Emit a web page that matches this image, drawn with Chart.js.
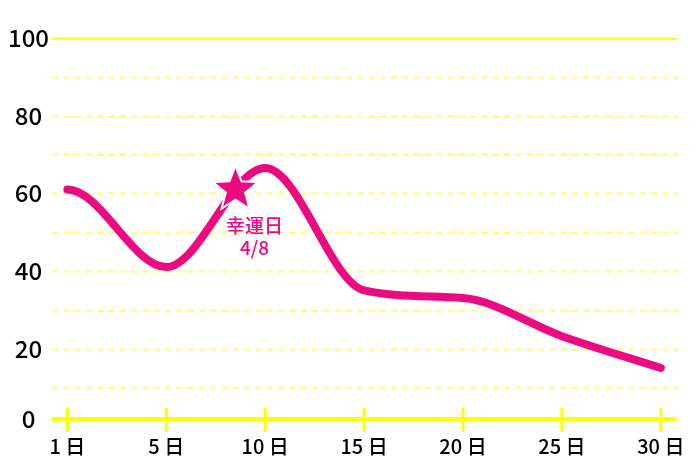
<!DOCTYPE html>
<html>
<head>
<meta charset="utf-8">
<script src="https://cdn.jsdelivr.net/npm/chart.js@4/dist/chart.umd.min.js"></script>
<style>
  html, body { margin: 0; padding: 0; background: #fff; }
  #wrap { width: 700px; height: 467px; }
</style>
</head>
<body>
<div id="wrap"><canvas id="fortuneChart" width="700" height="467"></canvas></div>
<script>
// data
const dayLabels = ['1 日', '5 日', '10 日', '15 日', '20 日', '25 日', '30 日'];
const dayIndex = [0, 1, 2, 3, 4, 5, 6];
const fortuneValues = [61, 41, 66.5, 35, 33, 23.2, 15];
const yLabelValues = [20, 40, 60, 80, 100];
const yGridValues = [10, 20, 30, 40, 50, 60, 70, 80, 90, 100];
const luckyText = ['幸運日', '4/8'];
const luckyPoint = { x: 1.7, y: 61 };

const yBottom = 1.86; // axis line sits a bit above true zero in the original
const pink = '#ec0a80';
const yellow = '#ffff00';
const jpFont = '"Noto Sans CJK JP", sans-serif';

const gridPlugin = {
    id: 'yellowGrid',
    beforeDatasetsDraw(chart) {
        const { ctx, chartArea, scales } = chart;
        const x = scales.x, y = scales.y;

        // original curve leaves the first point flat
        const meta = chart.getDatasetMeta(0);
        meta.dataset.updateControlPoints(chartArea, 'x');
        const p0 = meta.data[0];
        p0.cp2y = p0.y;

        ctx.save();
        yGridValues.forEach(function(v) {
            const py = Math.round(y.getPixelForValue(v)) + 0.5;
            ctx.beginPath();
            if (v === 100) {
                ctx.setLineDash([]);
                ctx.strokeStyle = yellow;
                ctx.moveTo(chartArea.left, py);
                ctx.lineTo(chartArea.right - 1, py);
            } else {
                ctx.setLineDash([6, 5.3]);
                ctx.strokeStyle = 'rgba(255,255,80,0.85)';
                ctx.moveTo(chartArea.left, py);
                ctx.lineTo(chartArea.right + 1, py);
            }
            ctx.lineWidth = 2;
            ctx.stroke();
        });
        ctx.setLineDash([]);
        // x axis with ticks crossing it
        const by = chartArea.bottom;
        ctx.strokeStyle = yellow;
        ctx.lineWidth = 4;
        ctx.beginPath();
        ctx.moveTo(chartArea.left, by);
        ctx.lineTo(chartArea.right - 1, by);
        ctx.stroke();
        ctx.lineWidth = 3;
        dayIndex.forEach(function(d) {
            const px = x.getPixelForValue(d);
            ctx.beginPath();
            ctx.moveTo(px, by - 11);
            ctx.lineTo(px, by + 13);
            ctx.stroke();
        });
        ctx.restore();
    }
};

const starPlugin = {
    id: 'luckyStar',
    afterDatasetsDraw(chart) {
        const { ctx, scales } = chart;
        const cx = scales.x.getPixelForValue(luckyPoint.x);
        const cy = scales.y.getPixelForValue(luckyPoint.y);
        const R = 21, r = 9;
        ctx.save();
        ctx.beginPath();
        for (let i = 0; i < 10; i++) {
            const rad = i % 2 === 0 ? R : r;
            const a = -Math.PI / 2 + i * Math.PI / 5;
            const px = cx + rad * Math.cos(a);
            const py = cy + rad * Math.sin(a);
            if (i === 0) ctx.moveTo(px, py); else ctx.lineTo(px, py);
        }
        ctx.closePath();
        ctx.strokeStyle = '#fff';
        ctx.lineWidth = 4;
        ctx.stroke();
        ctx.fillStyle = pink;
        ctx.fill();

        ctx.fillStyle = pink;
        ctx.font = '500 19px ' + jpFont;
        ctx.textAlign = 'center';
        ctx.textBaseline = 'middle';
        ctx.fillText(luckyText[0], cx + 19, cy + 36);
        ctx.fillText(luckyText[1], cx + 19, cy + 58);
        ctx.restore();
    }
};

const ctx = document.getElementById('fortuneChart').getContext('2d');
const chart = new Chart(ctx, {
    type: 'line',
    data: {
        datasets: [{
            data: dayIndex.map((d, i) => ({ x: d, y: fortuneValues[i] })),
            borderColor: pink,
            borderWidth: 8,
            borderCapStyle: 'round',
            borderJoinStyle: 'round',
            cubicInterpolationMode: 'monotone',
            pointRadius: 0,
            fill: false,
            clip: false
        }]
    },
    options: {
        responsive: false,
        animation: false,
        layout: { padding: { top: 38, right: 20, bottom: 0, left: 0 } },
        plugins: {
            legend: { display: false },
            tooltip: { enabled: false }
        },
        scales: {
            x: {
                type: 'linear',
                min: -0.155,
                max: 6.17,
                grid: { display: false, drawTicks: false },
                border: { display: false },
                afterBuildTicks: function(scale) {
                    scale.ticks = dayIndex.map(v => ({ value: v }));
                },
                afterFit: function(scale) { scale.height = 48; },
                ticks: {
                    padding: 15,
                    autoSkip: false,
                    maxRotation: 0,
                    color: '#000',
                    font: { family: jpFont, size: 20, weight: 500 },
                    callback: function(v) { return dayLabels[v]; }
                }
            },
            y: {
                min: yBottom,
                max: 100,
                grid: { display: false, drawTicks: false },
                border: { display: false },
                afterBuildTicks: function(scale) {
                    scale.ticks = [yBottom].concat(yGridValues).map(v => ({ value: v }));
                },
                afterFit: function(scale) { scale.width = 52; },
                ticks: {
                    padding: 3,
                    crossAlign: 'center',
                    color: '#000',
                    font: { family: jpFont, size: 24, weight: 500 },
                    callback: function(v) {
                        if (v === yBottom) return '0';
                        return yLabelValues.includes(v) ? String(v) : '';
                    }
                }
            }
        }
    },
    plugins: [gridPlugin, starPlugin]
});
</script>
</body>
</html>
